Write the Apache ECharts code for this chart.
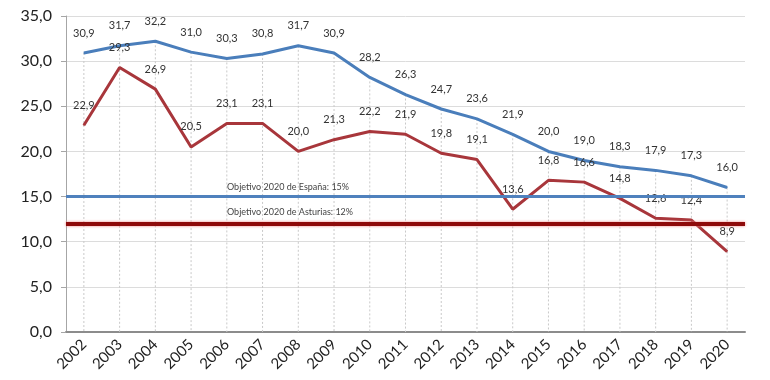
<!DOCTYPE html>
<html>
<head>
<meta charset="utf-8">
<script src="https://cdn.jsdelivr.net/npm/echarts@6/dist/echarts.min.js"></script>
<style>html,body{margin:0;padding:0;background:#fff}#c{width:770px;height:380px}</style>
</head>
<body>
<div id="c"></div>
<script>
var years = ['2002','2003','2004','2005','2006','2007','2008','2009','2010','2011','2012','2013','2014','2015','2016','2017','2018','2019','2020'];
var espana = [30.9,31.7,32.2,31.0,30.3,30.8,31.7,30.9,28.2,26.3,24.7,23.6,21.9,20.0,19.0,18.3,17.9,17.3,16.0];
var asturias = [22.9,29.3,26.9,20.5,23.1,23.1,20.0,21.3,22.2,21.9,19.8,19.1,13.6,16.8,16.6,14.8,12.6,12.4,8.9];
var targetEspana = 15;
var targetAsturias = 12;
var targetEspanaText = 'Objetivo 2020 de España: 15%';
var targetAsturiasText = 'Objetivo 2020 de Asturias: 12%';

function fmt(v){ return Number(v).toFixed(1).replace('.', ','); }

var chart = echarts.init(document.getElementById('c'));
var font = 'Lato, "Open Sans", sans-serif';
var labelStyle = {show:true, position:'top', distance:14, fontFamily:font, fontSize:11, color:'#333', formatter:function(p){return fmt(p.value);}};

chart.setOption({
  animation:false,
  backgroundColor:'#fff',
  grid:{left:66, right:25, top:16, bottom:48},
  xAxis:{
    type:'category', data:years, boundaryGap:true,
    axisLine:{show:true, lineStyle:{color:'#8c8c8c', width:2}},
    axisTick:{show:false},
    axisLabel:{rotate:45, fontFamily:font, fontSize:15, color:'#222', margin:10, interval:0},
    splitLine:{show:false}
  },
  yAxis:{
    type:'value', min:0, max:35, interval:5,
    axisLine:{show:true, lineStyle:{color:'#a6a6a6', width:1}},
    axisTick:{show:true, length:5, lineStyle:{color:'#a6a6a6'}},
    axisLabel:{fontFamily:font, fontSize:16, color:'#222', margin:14, formatter:function(v){return fmt(v);}},
    splitLine:{show:true, lineStyle:{color:'#dcdcdc', width:1}}
  },
  series:[
    {
      type:'custom', z:1, silent:true,
      data: espana.map(function(v,i){return [i,v];}),
      renderItem:function(params, api){
        var top = api.coord([api.value(0), api.value(1)]);
        var bot = api.coord([api.value(0), 0]);
        return {type:'line', shape:{x1:top[0], y1:top[1], x2:bot[0], y2:bot[1]},
          style:{stroke:'#c9c9c9', lineWidth:1, lineDash:[2,2]}};
      }
    },
    {
      name:'España', type:'line', data:espana, z:3,
      symbol:'circle', symbolSize:1,
      lineStyle:{color:'#4A7EBB', width:3},
      itemStyle:{color:'#4A7EBB'},
      label:labelStyle,
      markLine:{
        silent:true, symbol:'none',
        lineStyle:{color:'#4F81BD', width:3, type:'solid'},
        label:{show:true, position:'insideStartTop', formatter:targetEspanaText, fontFamily:font, fontSize:9, color:'#444', padding:[0,0,0,156]},
        data:[{yAxis:targetEspana}]
      }
    },
    {
      name:'Asturias', type:'line', data:asturias, z:3,
      symbol:'circle', symbolSize:1,
      lineStyle:{color:'#A8363B', width:3},
      itemStyle:{color:'#A8363B'},
      label:labelStyle,
      markLine:{
        silent:true, symbol:'none',
        lineStyle:{color:'#8E0A0A', width:4, type:'solid', shadowColor:'#f08080', shadowBlur:3},
        label:{show:true, position:'insideStartTop', formatter:targetAsturiasText, fontFamily:font, fontSize:9, color:'#444', padding:[0,0,2,156]},
        data:[{yAxis:targetAsturias}]
      }
    }
  ]
});
</script>
</body>
</html>
